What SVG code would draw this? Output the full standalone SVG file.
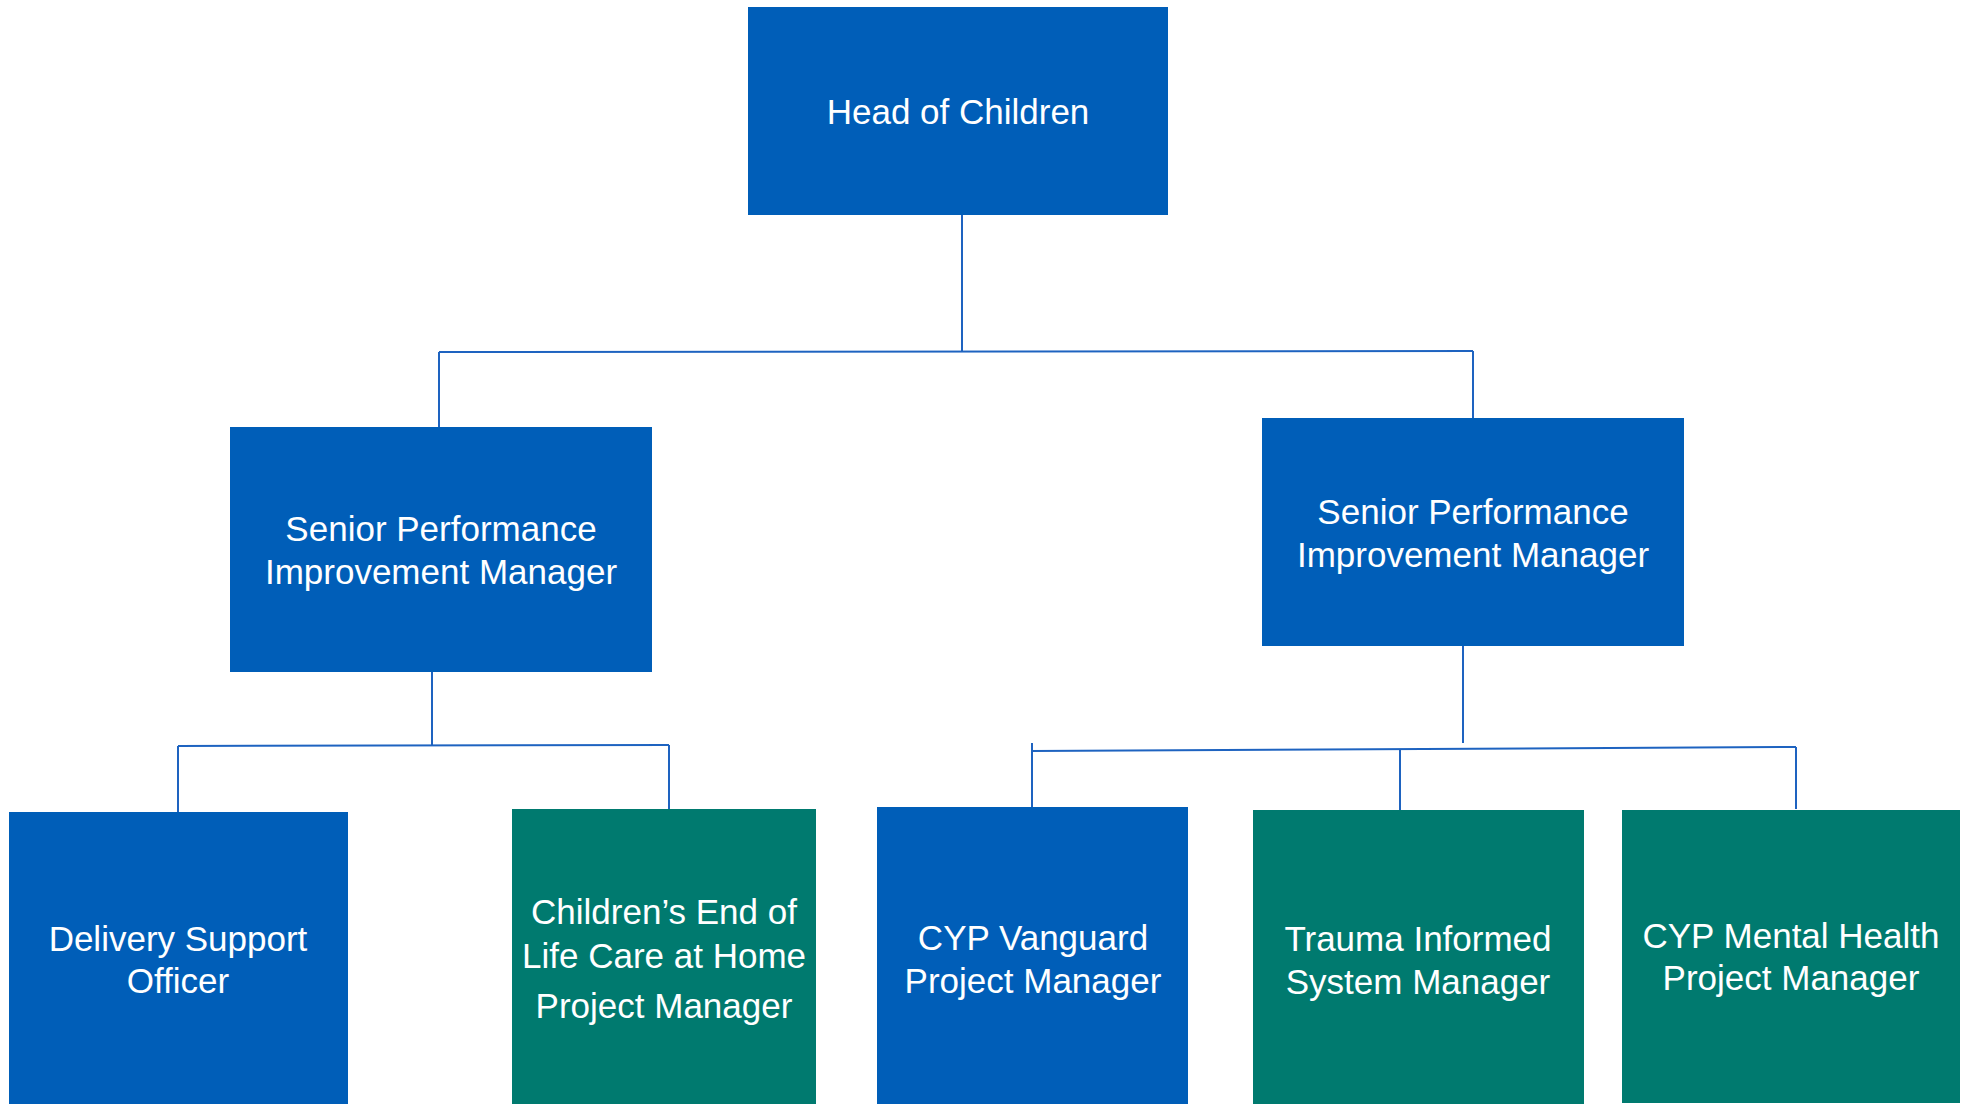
<svg xmlns="http://www.w3.org/2000/svg" width="1972" height="1104" viewBox="0 0 1972 1104">
<style>
.blue{fill:#005EB8}
.teal{fill:#007A6F}
.t{font-family:"Liberation Sans",Arial,sans-serif;font-size:35px;fill:#ffffff;text-anchor:middle}
.c{fill:none;stroke:#1E63C0;stroke-width:2}
</style>
<rect width="1972" height="1104" fill="#ffffff"/>
<g id="connectors">
<path class="c" d="M962 215 V351"/>
<path class="c" d="M439 352 L1473 351"/>
<path class="c" d="M439 352 V427"/>
<path class="c" d="M1473 351 V418"/>
<path class="c" d="M432 672 V745"/>
<path class="c" d="M178 746 L669 745"/>
<path class="c" d="M178 746 V812"/>
<path class="c" d="M669 745 V809"/>
<path class="c" d="M1463 646 V743"/>
<path class="c" d="M1032 751 L1796 747"/>
<path class="c" d="M1032 743 V807"/>
<path class="c" d="M1400 750 V810"/>
<path class="c" d="M1796 747 V809"/>
</g>
<g id="head">
<rect class="blue" x="748" y="7" width="420" height="208"/>
<text class="t" x="958" y="124">Head of Children</text>
</g>
<g id="spim-left">
<rect class="blue" x="230" y="427" width="422" height="245"/>
<text class="t" x="441" y="541">Senior Performance</text>
<text class="t" x="441" y="584">Improvement Manager</text>
</g>
<g id="spim-right">
<rect class="blue" x="1262" y="418" width="422" height="228"/>
<text class="t" x="1473" y="524">Senior Performance</text>
<text class="t" x="1473" y="567">Improvement Manager</text>
</g>
<g id="delivery">
<rect class="blue" x="9" y="812" width="339" height="292"/>
<text class="t" x="178" y="951">Delivery Support</text>
<text class="t" x="178" y="993">Officer</text>
</g>
<g id="end-of-life">
<rect class="teal" x="512" y="809" width="304" height="295"/>
<text class="t" x="664" y="924">Children’s End of</text>
<text class="t" x="664" y="968">Life Care at Home</text>
<text class="t" x="664" y="1018">Project Manager</text>
</g>
<g id="vanguard">
<rect class="blue" x="877" y="807" width="311" height="297"/>
<text class="t" x="1033" y="950">CYP Vanguard</text>
<text class="t" x="1033" y="993">Project Manager</text>
</g>
<g id="trauma">
<rect class="teal" x="1253" y="810" width="331" height="294"/>
<text class="t" x="1418" y="951">Trauma Informed</text>
<text class="t" x="1418" y="994">System Manager</text>
</g>
<g id="mental-health">
<rect class="teal" x="1622" y="810" width="338" height="293"/>
<text class="t" x="1791" y="948">CYP Mental Health</text>
<text class="t" x="1791" y="990">Project Manager</text>
</g>
</svg>
